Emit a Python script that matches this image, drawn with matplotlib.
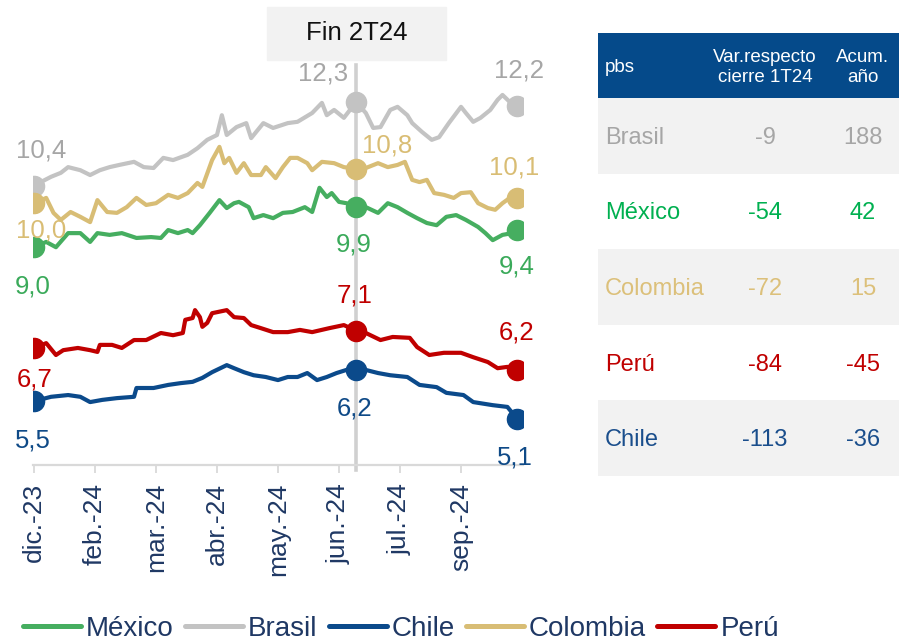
import matplotlib
matplotlib.use("Agg")
import matplotlib.pyplot as plt
from matplotlib.patches import Rectangle
from matplotlib.lines import Line2D

plt.rcParams['font.family'] = ['Liberation Sans', 'DejaVu Sans']

# ---------------- data ----------------
tick_pos = [0, 25, 50, 75, 100, 125, 150, 175]
tick_labels = ["dic.-23", "feb.-24", "mar.-24", "abr.-24", "may.-24",
               "jun.-24", "jul.-24", "sep.-24"]
fin_2t24 = 132  # position of end of 2Q24 (trading-day index)

brasil_x = [0, 7, 11, 14, 19, 23, 27, 31, 35, 41, 45, 49, 53, 57, 63, 67, 71, 75, 77, 79,
            83, 87, 89, 94, 98, 104, 108, 114, 118, 120, 123, 127, 132, 136, 139, 142, 146,
            149, 153, 155, 159, 163, 166, 170, 175, 177, 180, 183, 187, 190, 192, 195, 198]
brasil_y = [10.40, 10.60, 10.69, 10.82, 10.75, 10.64, 10.75, 10.82, 10.87, 10.94, 10.82,
            10.80, 11.03, 10.98, 11.10, 11.25, 11.44, 11.55, 12.00, 11.55, 11.73, 11.82,
            11.48, 11.82, 11.71, 11.82, 11.85, 12.05, 12.28, 12.00, 12.12, 11.94, 12.30,
            12.05, 11.71, 11.73, 12.12, 12.19, 12.00, 11.82, 11.62, 11.44, 11.50, 11.82,
            12.19, 12.05, 11.85, 11.94, 12.12, 12.35, 12.46, 12.30, 12.20]

colombia_x = [0, 5, 8, 11, 15, 19, 23, 26, 30, 34, 38, 42, 46, 50, 55, 59, 63, 67, 69, 73,
              76, 78, 80, 83, 86, 89, 93, 95, 99, 102, 105, 108, 112, 114, 118, 123, 127,
              132, 136, 141, 145, 149, 152, 155, 158, 161, 164, 168, 172, 175, 179, 182,
              186, 189, 192, 195, 198]
colombia_y = [10.00, 10.12, 9.78, 9.62, 9.80, 9.69, 9.57, 10.07, 9.80, 9.78, 9.91, 10.12,
              9.96, 10.00, 10.19, 10.12, 10.23, 10.46, 10.37, 10.98, 11.28, 10.91, 11.03,
              10.69, 10.91, 10.64, 10.64, 10.82, 10.57, 10.82, 11.03, 11.03, 10.91, 10.75,
              10.94, 10.91, 10.82, 10.78, 10.80, 10.91, 10.82, 10.87, 10.94, 10.53, 10.48,
              10.53, 10.23, 10.19, 10.12, 10.23, 10.25, 10.00, 9.89, 9.85, 10.00, 10.12,
              10.12]

mexico_x = [0, 5, 9, 14, 19, 23, 26, 31, 36, 42, 48, 52, 55, 59, 63, 65, 68, 72, 76, 79,
            82, 84, 88, 90, 94, 98, 102, 106, 111, 114, 117, 120, 122, 125, 128, 132, 136,
            141, 145, 149, 153, 157, 161, 165, 169, 173, 177, 182, 185, 188, 192, 196, 198]
mexico_y = [9.00, 9.12, 9.00, 9.32, 9.32, 9.12, 9.32, 9.28, 9.32, 9.21, 9.23, 9.21, 9.39,
            9.32, 9.39, 9.32, 9.50, 9.78, 10.07, 9.89, 10.00, 10.03, 9.91, 9.66, 9.73, 9.66,
            9.78, 9.80, 9.91, 9.80, 10.35, 10.14, 10.23, 10.03, 10.00, 9.92, 9.91, 9.78,
            10.00, 9.91, 9.78, 9.66, 9.55, 9.50, 9.69, 9.73, 9.62, 9.46, 9.32, 9.16, 9.28,
            9.32, 9.40]

peru_x = [0, 5, 9, 12, 18, 23, 26, 27, 32, 36, 41, 46, 52, 57, 61, 62, 65, 66, 68, 69, 71,
          73, 79, 82, 86, 89, 93, 98, 104, 109, 114, 121, 127, 132, 136, 142, 147, 154, 157,
          162, 168, 175, 180, 186, 190, 194, 198]
peru_y = [6.70, 6.82, 6.55, 6.66, 6.71, 6.66, 6.62, 6.78, 6.78, 6.71, 6.89, 6.89, 7.05, 7.00,
          7.05, 7.35, 7.39, 7.57, 7.41, 7.19, 7.28, 7.50, 7.57, 7.41, 7.39, 7.23, 7.16, 7.07,
          7.07, 7.12, 7.07, 7.16, 7.23, 7.10, 7.05, 6.89, 6.96, 6.94, 6.73, 6.55, 6.60, 6.60,
          6.50, 6.39, 6.25, 6.28, 6.22]

chile_x = [0, 7, 14, 19, 23, 28, 34, 41, 42, 49, 55, 60, 65, 69, 73, 79, 82, 86, 90, 95,
           100, 104, 108, 112, 116, 120, 124, 128, 132, 136, 141, 146, 153, 158, 165, 169,
           176, 180, 188, 194, 198]
chile_y = [5.50, 5.60, 5.64, 5.60, 5.48, 5.53, 5.57, 5.60, 5.80, 5.80, 5.87, 5.91, 5.94,
           6.03, 6.16, 6.32, 6.25, 6.16, 6.09, 6.05, 5.98, 6.05, 6.05, 6.14, 5.98, 6.05,
           6.14, 6.21, 6.20, 6.21, 6.14, 6.09, 6.05, 5.87, 5.82, 5.69, 5.64, 5.48, 5.41,
           5.37, 5.10]

legend_order = ["México", "Brasil", "Chile", "Colombia", "Perú"]

table_countries = ["Brasil", "México", "Colombia", "Perú", "Chile"]
table_var_1t24 = [-9, -54, -72, -84, -113]
table_acum = [188, 42, 15, -45, -36]

# ---------------- styles ----------------
line_colors = {"México": "#46ae60", "Brasil": "#c3c3c3", "Chile": "#0b4a8b",
               "Colombia": "#d8bd75", "Perú": "#c00000"}
text_colors = {"México": "#3aaa5a", "Brasil": "#a6a6a6", "Chile": "#0f4a87",
               "Colombia": "#d9bd74", "Perú": "#c00000"}
table_colors = {"México": "#00b050", "Brasil": "#a6a6a6", "Chile": "#1a4e8c",
                "Colombia": "#dcc07a", "Perú": "#c00000"}
# label offsets in pixels: start, end-2Q24, last
label_offsets = {
    "Brasil": [(7, 35), (-33, 28), (2, 36)],
    "Colombia": [(7, -27), (31, 23), (-3, 30)],
    "México": [(-1, -39), (-2, -38), (0, -37)],
    "Perú": [(1, -31), (-2, 35), (-1, 37)],
    "Chile": [(-1, -39), (-2, -38), (-2, -39)],
}
navy = "#1f3864"

series = {
    "Brasil": (brasil_x, brasil_y),
    "Colombia": (colombia_x, colombia_y),
    "México": (mexico_x, mexico_y),
    "Perú": (peru_x, peru_y),
    "Chile": (chile_x, chile_y),
}

W, H = 899, 641
fig = plt.figure(figsize=(W / 100, H / 100), dpi=100)

# ---------------- line chart ----------------
ax = fig.add_axes([33 / W, (H - 465) / H, 490 / W, 407 / H])
ax.set_xlim(-0.4, 200.4)
ax.set_ylim(4.05, 13.3)

ax.axvline(fin_2t24, ymin=-0.012, ymax=0.983, color="#d0d0d0", lw=2.6,
           zorder=1, clip_on=False)

for name, (xs, ys) in series.items():
    c = line_colors[name]
    ax.plot(xs, ys, color=c, lw=3.0, zorder=3, solid_joinstyle="round")
    idx_j = xs.index(fin_2t24)
    pts = [0, idx_j, len(xs) - 1]
    ax.plot([xs[i] for i in pts], [ys[i] for i in pts], "o", color=c,
            markersize=14.5, zorder=4)
    for k, i in enumerate(pts):
        ax.annotate(f"{ys[i]:.1f}".replace(".", ","), (xs[i], ys[i]),
                    xytext=label_offsets[name][k], textcoords="offset pixels",
                    ha="center", va="center", fontsize=18.5,
                    color=text_colors[name], zorder=5)

for s in ["top", "right", "left"]:
    ax.spines[s].set_visible(False)
ax.spines["bottom"].set_color("#d9d9d9")
ax.spines["bottom"].set_linewidth(1.6)
ax.set_yticks([])
ax.set_xticks(tick_pos)
ax.set_xticklabels(tick_labels, rotation=90, fontsize=19, color=navy)
ax.tick_params(axis="x", direction="out", length=6, width=1.3, color="#d9d9d9", pad=7)
ax.patch.set_alpha(0)

# Fin 2T24 box
fig.patches.append(Rectangle((267 / W, (H - 60) / H), 179 / W, 53 / H,
                             transform=fig.transFigure, color="#f2f2f2", zorder=0))
fig.text(356.5 / W, (H - 33) / H, "Fin 2T24", ha="center", va="center",
         fontsize=18.5, color="#111111")

# legend
handles = [Line2D([0], [0], color=line_colors[n], lw=3.6, solid_capstyle="round")
           for n in legend_order]
leg = fig.legend(handles, legend_order, loc="center left",
                 bbox_to_anchor=(23 / W, (H - 629) / H), ncol=5, frameon=False,
                 fontsize=20, handlelength=2.09, handletextpad=0.18,
                 columnspacing=0.40, borderpad=0, borderaxespad=0)
for t in leg.get_texts():
    t.set_color(navy)

# ---------------- table ----------------
tx = fig.add_axes([598 / W, (H - 476) / H, 301 / W, 443 / H])
tx.set_xlim(0, 301)
tx.set_ylim(443, 0)
tx.axis("off")
header_h = 65
row_h = (443 - header_h) / len(table_countries)
col2_x, col3_x = 167, 265

tx.add_patch(Rectangle((0, 0), 301, header_h, color="#054a8a", lw=0))
tx.text(7, 35, "pbs", color="white", fontsize=13.5, ha="left", va="center")
tx.text(col2_x, 24, "Var.respecto", color="white", fontsize=13.5, ha="center", va="center")
tx.text(col2_x, 45, "cierre 1T24", color="white", fontsize=13.5, ha="center", va="center")
tx.text(col3_x, 24, "Acum.", color="white", fontsize=13.5, ha="center", va="center")
tx.text(col3_x, 45, "año", color="white", fontsize=13.5, ha="center", va="center")

for r, name in enumerate(table_countries):
    y0 = header_h + r * row_h
    if r % 2 == 0:
        tx.add_patch(Rectangle((0, y0), 301, row_h, color="#f2f2f2", lw=0))
    yc = y0 + row_h / 2 + 2
    c = table_colors[name]
    tx.text(7, yc, name, color=c, fontsize=17, ha="left", va="center")
    tx.text(col2_x, yc, str(table_var_1t24[r]), color=c, fontsize=17, ha="center", va="center")
    tx.text(col3_x, yc, str(table_acum[r]), color=c, fontsize=17, ha="center", va="center")

fig.savefig("out.png", dpi=100)
